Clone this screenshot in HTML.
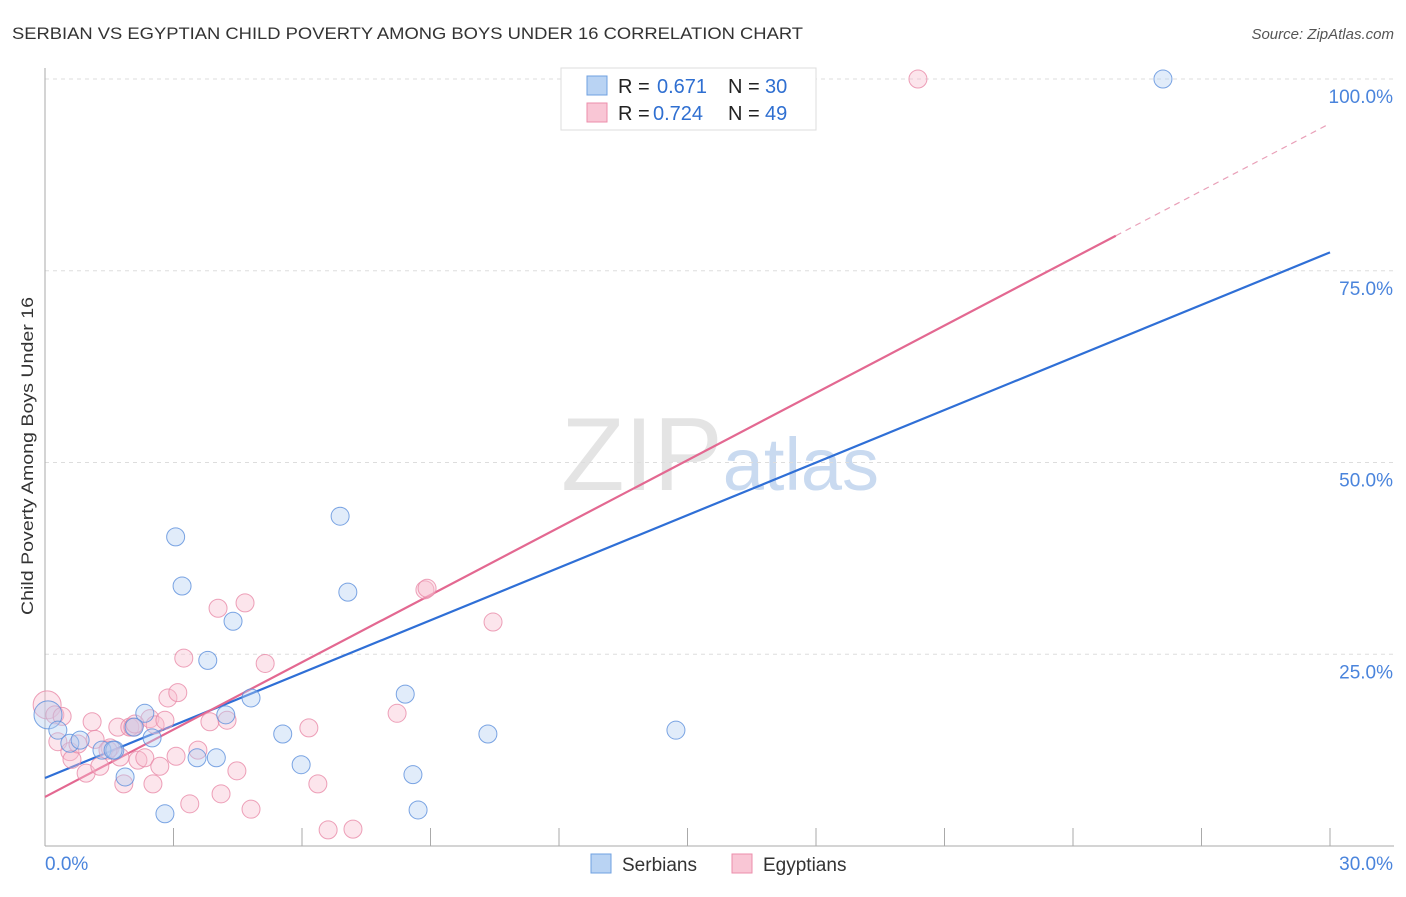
<!DOCTYPE html>
<html><head><meta charset="utf-8"><style>
body{margin:0;background:#fff;font-family:"Liberation Sans",sans-serif;}
svg text{font-family:"Liberation Sans",sans-serif;}
</style></head><body>
<svg id="chart" width="1406" height="892" xmlns="http://www.w3.org/2000/svg">
<text x="12" y="39" font-size="17" fill="#333" textLength="791" lengthAdjust="spacingAndGlyphs">SERBIAN VS EGYPTIAN CHILD POVERTY AMONG BOYS UNDER 16 CORRELATION CHART</text>
<text x="1394" y="39" font-size="15" fill="#555" text-anchor="end" font-style="italic">Source: ZipAtlas.com</text>
<text x="720" y="490" font-size="104" fill="#e4e4e4" text-anchor="middle" font-family="Liberation Serif">ZIP<tspan fill="#c9daf0" font-family="Liberation Sans" font-size="74">atlas</tspan></text>
<text transform="translate(33,456) rotate(-90)" font-size="17" fill="#333" text-anchor="middle" textLength="318" lengthAdjust="spacingAndGlyphs">Child Poverty Among Boys Under 16</text>
<g id="grid"></g><g id="ticks"></g><g id="lines"></g><g id="pts"></g>
<g>
<rect x="561" y="68" width="255" height="62" fill="#fff" stroke="#ddd"/>
<rect x="587" y="76" width="20" height="19" fill="#b9d3f3" stroke="#6fa0e0"/>
<rect x="587" y="103" width="20" height="19" fill="#f9c6d5" stroke="#ec8eab"/>
<text x="618" y="93" font-size="20" fill="#222">R = </text><text x="657" y="93" font-size="20" fill="#2f6fd1">0.671</text>
<text x="728" y="93" font-size="20" fill="#222">N = </text><text x="765" y="93" font-size="20" fill="#2f6fd1">30</text>
<text x="618" y="120" font-size="20" fill="#222">R = </text><text x="653" y="120" font-size="20" fill="#2f6fd1">0.724</text>
<text x="728" y="120" font-size="20" fill="#222">N = </text><text x="765" y="120" font-size="20" fill="#2f6fd1">49</text>
</g>
<g>
<rect x="591" y="854" width="20" height="19" fill="#b9d3f3" stroke="#6fa0e0"/>
<text x="622" y="871" font-size="19" fill="#333">Serbians</text>
<rect x="732" y="854" width="20" height="19" fill="#f9c6d5" stroke="#ec8eab"/>
<text x="763" y="871" font-size="19" fill="#333">Egyptians</text>
</g>
</svg>
<script>
const yTicks=[25,50,75,100];
const yTickLabels=["25.0%","50.0%","75.0%","100.0%"];
const xTicks=[0,3,6,9,12,15,18,21,24,27,30];
const xEndLabels=["0.0%","30.0%"];
const serbX=[0.07,0.3,0.58,0.82,1.33,1.63,1.87,2.33,2.5,2.8,3.05,3.2,3.55,3.8,4.0,4.22,4.39,4.81,5.55,5.98,6.89,7.07,8.41,8.59,8.71,10.34,14.73,26.1,2.08,1.59];
const serbY=[17.1,15.1,13.4,13.8,12.5,12.5,9.0,17.3,14.1,4.2,40.3,33.9,11.5,24.2,11.5,17.1,29.3,19.3,14.6,10.6,43.0,33.1,19.8,9.3,4.7,14.6,15.1,100,15.5,12.5];
const egyX=[0.05,0.23,0.3,0.4,0.58,0.63,0.77,0.96,1.1,1.28,1.17,1.52,1.7,1.84,1.98,2.05,2.17,2.33,2.45,2.52,2.57,2.68,2.8,2.87,3.1,3.06,3.24,3.38,3.57,3.85,4.04,4.11,4.25,4.48,4.67,4.81,5.14,6.16,6.37,6.61,7.19,8.22,8.87,8.92,10.46,20.38,1.75,2.1,1.47];
const egyY=[18.4,17.1,13.6,16.9,12.3,11.3,13.3,9.5,16.2,10.4,13.9,12.8,15.5,8.1,15.5,15.5,11.2,11.5,16.6,8.1,15.8,10.4,16.4,19.3,20.0,11.7,24.5,5.5,12.5,16.2,31.0,6.8,16.4,9.8,31.7,4.8,23.8,15.4,8.1,2.1,2.2,17.3,33.4,33.6,29.2,100,11.6,15.9,12.5];
const serbFit=[8.87,77.4];
const egyFit=[6.4,94.2];
const egySolidEnd=25;

const X=v=>45+v/30*1285, Y=v=>846-v/100*767;
const NS="http://www.w3.org/2000/svg";
function mk(p,t,a){const e=document.createElementNS(NS,t);for(const k in a)e.setAttribute(k,a[k]);p.appendChild(e);return e;}
const grid=document.getElementById('grid'),ticks=document.getElementById('ticks'),lines=document.getElementById('lines'),pts=document.getElementById('pts');
yTicks.forEach((v,i)=>{
 const l=mk(grid,'line',{x1:45,x2:1394,y1:Y(v),y2:Y(v),stroke:'#ddd','stroke-dasharray':'4,4'});
 
 
 const t=mk(grid,'text',{x:1393,y:Y(v)+24,'font-size':19,fill:'#4a84dc','text-anchor':'end'});
 t.textContent=yTickLabels[i];
 
 
});
const ax=mk(ticks,'line',{x1:45,x2:45,y1:68,y2:846,stroke:'#aaa'});


const bx=mk(ticks,'line',{x1:45,x2:1394,y1:846,y2:846,stroke:'#aaa'});


xTicks.forEach(v=>{
 const l=mk(ticks,'line',{x1:X(v),x2:X(v),y1:828,y2:846,stroke:'#aaa'});
 
 
});
[[0,'start',45],[30,'end',1393]].forEach((d,i)=>{
 const t=mk(ticks,'text',{x:d[2],y:870,'font-size':19,fill:'#4a84dc','text-anchor':d[1]});
 t.textContent=xEndLabels[i];
 
 
});
function dots(xs,ys,fill,stroke,name){
 xs.forEach((x,i)=>{
  const r=(i===0)?14:9;
  const c=mk(pts,'circle',{cx:X(x),cy:Y(ys[i]),r:r,fill:fill,'fill-opacity':0.4,stroke:stroke,'stroke-opacity':0.8,'stroke-width':1});
  
  
 });
}
dots(egyX,egyY,'#f7bdd0','#e98aa8','egyptian-point');
dots(serbX,serbY,'#b5cff2','#5b8fdc','serbian-point');
const bl=mk(lines,'line',{x1:X(0),y1:Y(serbFit[0]),x2:X(30),y2:Y(serbFit[1]),stroke:'#2f6fd6','stroke-width':2.2});


const pe=v=>egyFit[0]+(egyFit[1]-egyFit[0])*v/30;
const pl=mk(lines,'line',{x1:X(0),y1:Y(pe(0)),x2:X(egySolidEnd),y2:Y(pe(egySolidEnd)),stroke:'#e36891','stroke-width':2.2});


const pd=mk(lines,'line',{x1:X(egySolidEnd),y1:Y(pe(egySolidEnd)),x2:X(30),y2:Y(pe(30)),stroke:'#e9a0b8','stroke-width':1.2,'stroke-dasharray':'6,5'});


</script>
</body></html>
